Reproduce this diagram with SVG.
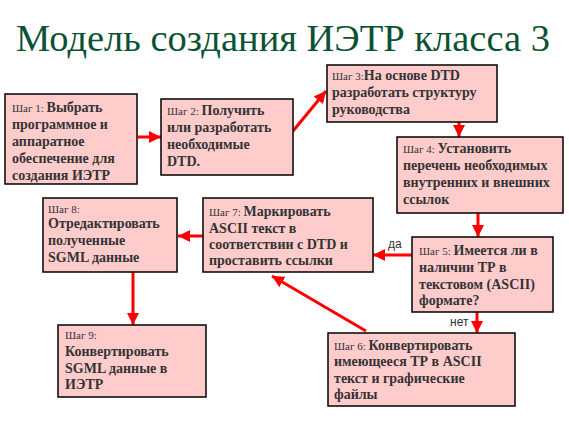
<svg xmlns="http://www.w3.org/2000/svg" width="569" height="427" viewBox="0 0 569 427">
<defs>
<marker id="ah" viewBox="0 0 10 10" refX="10" refY="5" markerWidth="4" markerHeight="4" orient="auto" markerUnits="strokeWidth">
<path d="M0,0 L10,5 L0,10 Z" fill="#ff0000"/>
</marker>
<style>
.box{fill:#ffcccc;stroke:#000;stroke-width:1.5}
.t{font-family:"Liberation Serif","Times New Roman",serif;fill:#333;font-size:14px;font-weight:bold}
.s{font-size:11px;font-weight:normal}
.c{stroke:#ff0000;stroke-width:3;fill:none;marker-end:url(#ah)}
.lbl{font-family:"Liberation Sans",Arial,sans-serif;font-size:12px;fill:#333}
</style>
</defs>
<rect width="569" height="427" fill="#fff"/>
<text x="283" y="51" text-anchor="middle" font-family="Liberation Serif,'Times New Roman',serif" font-size="38.5" fill="#0a5233">Модель создания ИЭТР класса 3</text>
<g id="connectors">
<line class="c" x1="138" y1="137" x2="161" y2="137"/>
<line class="c" x1="293" y1="131" x2="326" y2="91"/>
<line class="c" x1="459" y1="122" x2="459" y2="137"/>
<line class="c" x1="478" y1="213" x2="478" y2="237"/>
<line class="c" x1="412" y1="255" x2="373" y2="255"/>
<line class="c" x1="477" y1="312" x2="477" y2="333"/>
<line class="c" x1="366" y1="331" x2="272" y2="276"/>
<line class="c" x1="203" y1="236" x2="178" y2="236"/>
<line class="c" x1="133" y1="272" x2="133" y2="325"/>
<text class="lbl" x="388" y="248">да</text>
<text class="lbl" x="450" y="326">нет</text>
</g>
<g id="n1">
<rect class="box" x="5" y="94" width="132" height="90"/>
<text class="t" x="12" y="112"><tspan class="s">Шаг 1: </tspan>Выбрать</text>
<text class="t" x="12" y="129">программное и</text>
<text class="t" x="12" y="146">аппаратное</text>
<text class="t" x="12" y="163">обеспечение для</text>
<text class="t" x="12" y="180">создания ИЭТР</text>
</g>
<g id="n2">
<rect class="box" x="161" y="99" width="132" height="76"/>
<text class="t" x="167" y="115"><tspan class="s">Шаг 2: </tspan>Получить</text>
<text class="t" x="167" y="132">или разработать</text>
<text class="t" x="167" y="149">необходимые</text>
<text class="t" x="167" y="166">DTD.</text>
</g>
<g id="n3">
<rect class="box" x="327" y="65" width="170" height="57"/>
<text class="t" x="332" y="80"><tspan class="s">Шаг 3:</tspan>На основе DTD</text>
<text class="t" x="332" y="97">разработать структуру</text>
<text class="t" x="332" y="114">руководства</text>
</g>
<g id="n4">
<rect class="box" x="397" y="137" width="166" height="76"/>
<text class="t" x="403" y="153"><tspan class="s">Шаг 4: </tspan>Установить</text>
<text class="t" x="403" y="170">перечень необходимых</text>
<text class="t" x="403" y="187">внутренних и внешних</text>
<text class="t" x="403" y="204">ссылок</text>
</g>
<g id="n5">
<rect class="box" x="412" y="237" width="141" height="75"/>
<text class="t" x="419" y="255"><tspan class="s">Шаг 5: </tspan>Имеется ли в</text>
<text class="t" x="419" y="272">наличии ТР в</text>
<text class="t" x="419" y="289">текстовом (ASCII)</text>
<text class="t" x="419" y="305">формате?</text>
</g>
<g id="n6">
<rect class="box" x="328" y="333" width="187" height="73"/>
<text class="t" x="334" y="350"><tspan class="s">Шаг 6: </tspan>Конвертировать</text>
<text class="t" x="334" y="366">имеющееся ТР в ASCII</text>
<text class="t" x="334" y="383">текст и графические</text>
<text class="t" x="334" y="399">файлы</text>
</g>
<g id="n7">
<rect class="box" x="203" y="198" width="170" height="74"/>
<text class="t" x="209" y="216"><tspan class="s">Шаг 7: </tspan>Маркировать</text>
<text class="t" x="209" y="233">ASCII текст в</text>
<text class="t" x="209" y="249">соответствии с DTD и</text>
<text class="t" x="209" y="265">проставить ссылки</text>
</g>
<g id="n8">
<rect class="box" x="43" y="198" width="134" height="74"/>
<text class="t s" x="48" y="213">Шаг 8:</text>
<text class="t" x="48" y="228">Отредактировать</text>
<text class="t" x="48" y="245">полученные</text>
<text class="t" x="48" y="262">SGML данные</text>
</g>
<g id="n9">
<rect class="box" x="58" y="325" width="148" height="72"/>
<text class="t s" x="65" y="339">Шаг 9:</text>
<text class="t" x="65" y="356">Конвертировать</text>
<text class="t" x="65" y="373">SGML данные в</text>
<text class="t" x="65" y="389">ИЭТР</text>
</g>
</svg>
